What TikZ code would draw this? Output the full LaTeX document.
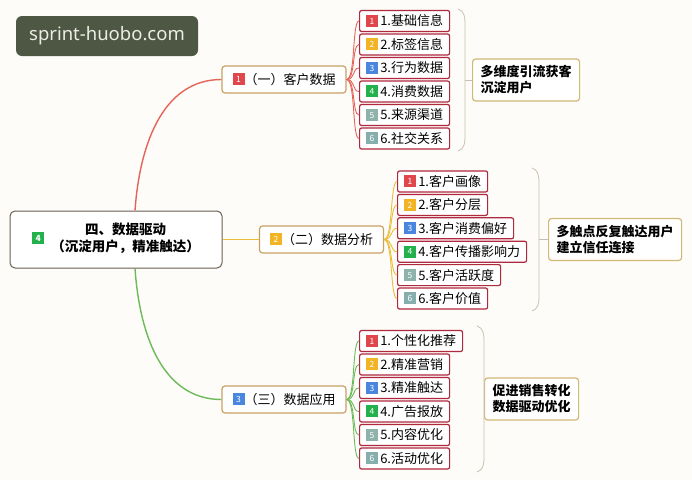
\documentclass[tikz,border=0pt]{standalone}
\usepackage{fontspec}
\setmainfont{Noto Sans CJK SC}
\newfontfamily\sitefont{Noto Sans}
\usetikzlibrary{positioning}
% colours
\definecolor{bgpaper}{HTML}{FDFCF8}
\definecolor{sitebox}{HTML}{4E5744}
\definecolor{sitetext}{HTML}{ECEDE4}
\definecolor{rootline}{HTML}{6B5E52}
\definecolor{branchline}{HTML}{C9A063}
\definecolor{leafline}{HTML}{B0283F}
\definecolor{noteline}{HTML}{D2B877}
\definecolor{linkred}{HTML}{E5645A}
\definecolor{linkyellow}{HTML}{EBBE3A}
\definecolor{linkgreen}{HTML}{6DBA5A}
\definecolor{bracegray}{HTML}{C8BFB0}
\definecolor{tagA}{HTML}{E0474C}
\definecolor{tagB}{HTML}{F2B325}
\definecolor{tagC}{HTML}{4A86E0}
\definecolor{tagD}{HTML}{22B14C}
\definecolor{tagE}{HTML}{8DB3AB}
\definecolor{tagF}{HTML}{86AEAC}
% small numbered square
\newcommand{\tagno}[2]{{\setlength{\fboxsep}{0pt}\colorbox{#1}{\makebox[12pt][c]{\rule[-1pt]{0pt}{12pt}\color{white}\fontsize{8.5}{8}\selectfont\raisebox{1.8pt}{#2}}}}}
\tikzset{
  site/.style={fill=sitebox,rounded corners=6pt,minimum width=182pt,minimum height=40pt,text=sitetext,font=\sitefont\fontsize{18.5}{20}\selectfont},
  root/.style={draw=rootline,line width=1pt,rounded corners=5pt,fill=white,minimum width=212pt,minimum height=57pt,font=\bfseries\fontsize{13.5}{17}\selectfont},
  branch/.style={draw=branchline,line width=1.2pt,rounded corners=3pt,fill=white,minimum width=124pt,minimum height=27pt,inner sep=0pt,font=\fontsize{13}{15}\selectfont},
  leaf/.style={draw=leafline,line width=1.2pt,rounded corners=2pt,fill=white,minimum height=21pt,inner xsep=6.5pt,inner ysep=0pt,anchor=west,font=\fontsize{13}{15}\selectfont},
  note/.style={draw=noteline,line width=1.2pt,rounded corners=3pt,fill=white,align=left,inner xsep=8pt,minimum height=42pt,anchor=west,font=\bfseries\fontsize{13}{16}\selectfont},
  bracket/.style={draw=bracegray,line width=0.8pt},
}
\begin{document}
\begin{tikzpicture}[x=1pt,y=-1pt]
\fill[bgpaper] (0,0) rectangle (692,480);
\useasboundingbox (0,0) rectangle (692,480);
% site mark
\node[site] (site) at (107,36) {sprint-huobo.com};
% centre and three branches
\node[root] (root) at (116,239.5) {\tagno{tagD}{4}\hspace{7pt}\begin{tabular}{@{}c@{}}四、数据驱动\\（沉淀用户，精准触达）\end{tabular}};
\node[branch] (b1) at (284,79.5) {\tagno{tagA}{1}（一）客户数据};
\node[branch] (b2) at (321.5,239.5) {\tagno{tagB}{2}（二）数据分析};
\node[branch] (b3) at (284,399.5) {\tagno{tagC}{3}（三）数据应用};
\draw[linkred,line width=1.4pt] ([xshift=19pt]root.north) .. controls (140,140) and (165,79.5) .. (b1.west);
\draw[linkyellow,line width=1.4pt] (root.east) -- (b2.west);
\draw[linkgreen,line width=1.4pt] ([xshift=19pt]root.south) .. controls (140,340) and (165,399.5) .. (b3.west);
% leaves of branch 1
\foreach \i/\t/\c in {1/基础信息/tagA,2/标签信息/tagB,3/行为数据/tagC,4/消费数据/tagD,5/来源渠道/tagE,6/社交关系/tagF}{
  \node[leaf] (l1\i) at (359,{21+23.5*(\i-1)}) {\tagno{\c}{\i}\,\i.\t};
  \draw[linkred,line width=0.9pt] (b1.east) .. controls +(9,0) and +(-7,0) .. (l1\i.west);
}
% leaves of branch 2
\foreach \i/\t/\c in {1/客户画像/tagA,2/客户分层/tagB,3/客户消费偏好/tagC,4/客户传播影响力/tagD,5/客户活跃度/tagE,6/客户价值/tagF}{
  \node[leaf] (l2\i) at (397,{181.5+23.4*(\i-1)}) {\tagno{\c}{\i}\,\i.\t};
  \draw[linkyellow,line width=0.9pt] (b2.east) .. controls +(9,0) and +(-7,0) .. (l2\i.west);
}
% leaves of branch 3
\foreach \i/\t/\c in {1/个性化推荐/tagA,2/精准营销/tagB,3/精准触达/tagC,4/广告报放/tagD,5/内容优化/tagE,6/活动优化/tagF}{
  \node[leaf] (l3\i) at (359,{341+23.5*(\i-1)}) {\tagno{\c}{\i}\,\i.\t};
  \draw[linkgreen,line width=0.9pt] (b3.east) .. controls +(9,0) and +(-7,0) .. (l3\i.west);
}
% summaries
\node[note] (n1) at (472,80) {多维度引流获客\\沉淀用户};
\node[note] (n2) at (548,239.5) {多触点反复触达用户\\建立信任连接};
\node[note] (n3) at (484,399) {促进销售转化\\数据驱动优化};
% brackets
\foreach \x/\ya/\yb/\n in {458/9/151/n1,532/168/311/n2,477/326/472/n3}{
  \coordinate (m\n) at (\x+7,{(\ya+\yb)/2});
  \draw[bracket] (\x,\ya) .. controls (\x+6,\ya+2) and (\x+7,\ya+7) .. (\x+7,\ya+15)
    -- (\x+7,\yb-15) .. controls (\x+7,\yb-7) and (\x+6,\yb-2) .. (\x,\yb);
  \draw[bracket] (m\n) -- (\n.west);
}
\end{tikzpicture}
\end{document}
